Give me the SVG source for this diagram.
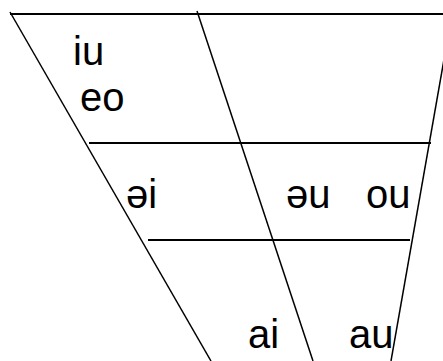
<svg xmlns="http://www.w3.org/2000/svg" width="443" height="361" viewBox="0 0 443 361">
<style>
.h{stroke:#000;stroke-width:2;fill:none}
.d{stroke:#000;stroke-width:1.5;fill:none}
text{font-family:"Liberation Sans",Arial,sans-serif;font-size:40px;fill:#000}
</style>
<rect width="443" height="361" fill="#fff"/>
<g id="connectors">
<line class="h" x1="10" y1="14" x2="443" y2="14"/>
<line class="h" x1="89" y1="143" x2="431" y2="143"/>
<line class="h" x1="148" y1="240" x2="410" y2="240"/>
<line class="d" x1="10" y1="12" x2="211" y2="361"/>
<line class="d" x1="197" y1="11" x2="313" y2="361"/>
<line class="d" x1="452" y1="14" x2="391" y2="361"/>
</g>
<g id="n-iu"><text x="73" y="65">iu</text></g>
<g id="n-eo"><text x="80" y="111">eo</text></g>
<g id="n-ei"><text x="126" y="208">əi</text></g>
<g id="n-eu"><text x="286" y="208">əu</text></g>
<g id="n-ou"><text x="366" y="208">ou</text></g>
<g id="n-ai"><text x="248" y="348">ai</text></g>
<g id="n-au"><text x="349" y="348">au</text></g>
</svg>
